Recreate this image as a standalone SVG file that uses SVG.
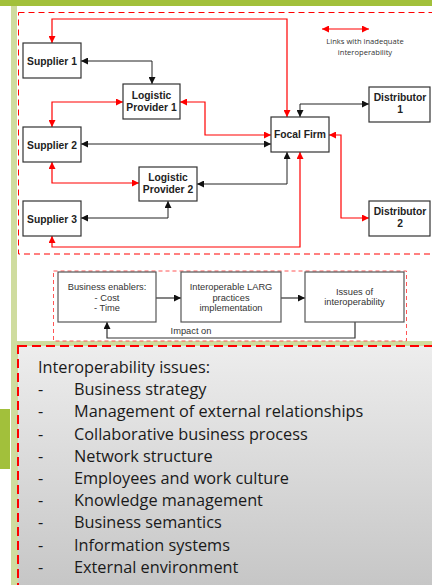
<svg xmlns="http://www.w3.org/2000/svg" width="432" height="585" viewBox="0 0 432 585">
  <defs>
    <linearGradient id="panelFill" x1="0" y1="0" x2="0" y2="1">
      <stop offset="0" stop-color="#ededed"/>
      <stop offset="1" stop-color="#c3c3c3"/>
    </linearGradient>
    <marker id="arRed" viewBox="0 0 8 8" refX="8" refY="4" markerWidth="7" markerHeight="7" orient="auto-start-reverse" markerUnits="userSpaceOnUse">
      <path d="M0,0 L8,4 L0,8 z" fill="#ff0000"/>
    </marker>
    <marker id="arBlack" viewBox="0 0 8 8" refX="8" refY="4" markerWidth="7" markerHeight="7" orient="auto-start-reverse" markerUnits="userSpaceOnUse">
      <path d="M0,0 L8,4 L0,8 z" fill="#111"/>
    </marker>
  </defs>
  <style>
    .node rect { fill: #fff; stroke: #333; stroke-width: 1.2; }
    .node text { font-family: "Liberation Sans", Arial, sans-serif; font-weight: bold; font-size: 10.3px; fill: #222; text-anchor: middle; }
    .flow rect { fill: #fff; stroke: #555; stroke-width: 1.2; }
    .flow text, .small { font-family: "Liberation Sans", Arial, sans-serif; font-size: 9.3px; fill: #333; text-anchor: middle; }
    .red { fill: none; stroke: #ff0000; stroke-width: 1.2; marker-start: url(#arRed); marker-end: url(#arRed); }
    .blk { fill: none; stroke: #222; stroke-width: 1; marker-start: url(#arBlack); marker-end: url(#arBlack); }
    .one { fill: none; stroke: #333; stroke-width: 1.2; marker-end: url(#arBlack); }
    .legend { font-family: "Open Sans", sans-serif; font-size: 7.6px; fill: #333; text-anchor: middle; }
    .list { font-family: "Open Sans", sans-serif; font-size: 16.3px; fill: #1a1a1a; }
  </style>

  <!-- slide background and frame -->
  <rect x="0" y="0" width="432" height="585" fill="#fff"/>
  <rect x="11" y="6" width="421" height="579" fill="#cfdc9f"/>
  <rect x="17" y="6" width="415" height="335" fill="#fff"/>
  <rect x="0" y="0" width="432" height="6" fill="#a2c03b"/>
  <rect x="0" y="409" width="10" height="60" fill="#a2c03b"/>

  <!-- network area frame -->
  <rect x="18.5" y="12.5" width="430" height="241.5" fill="none" stroke="#ff0000" stroke-width="1" stroke-dasharray="6 4"/>

  <!-- legend -->
  <g id="legend">
    <path d="M322,29 H369" class="red"/>
    <text class="legend" x="365" y="44">Links with inadequate</text>
    <text class="legend" x="365" y="54.5">interoperability</text>
  </g>

  <!-- connectors -->
  <g id="connectors">
    <path class="red" d="M52,43 V19 H287 V117"/>
    <path class="red" d="M52,127 V102 H123"/>
    <path class="red" d="M180,102 H205 V135 H271"/>
    <path class="red" d="M52,162 V183 H139"/>
    <path class="red" d="M52,236 V247 H300 V152"/>
    <path class="red" d="M329,135 H341 V218 H369"/>
    <path class="blk" d="M81,61 H152 V84"/>
    <path class="blk" d="M81,144 H271"/>
    <path class="blk" d="M197,184 H287 V152"/>
    <path class="blk" d="M81,218 H168 V201"/>
    <path class="blk" d="M300,117 V104 H369"/>
  </g>

  <!-- network nodes -->
  <g id="supplier1" class="node">
    <rect x="23" y="43" width="58" height="35"/>
    <text x="52" y="64.5">Supplier 1</text>
  </g>
  <g id="logistic1" class="node">
    <rect x="123" y="84" width="57" height="35"/>
    <text x="151.5" y="99">Logistic</text>
    <text x="151.5" y="111">Provider 1</text>
  </g>
  <g id="supplier2" class="node">
    <rect x="23" y="127" width="58" height="35"/>
    <text x="52" y="148.5">Supplier 2</text>
  </g>
  <g id="logistic2" class="node">
    <rect x="139" y="167" width="58" height="34"/>
    <text x="168" y="181">Logistic</text>
    <text x="168" y="193">Provider 2</text>
  </g>
  <g id="supplier3" class="node">
    <rect x="23" y="201" width="58" height="35"/>
    <text x="52" y="222.5">Supplier 3</text>
  </g>
  <g id="focal" class="node">
    <rect x="271" y="117" width="58" height="35"/>
    <text x="300" y="138">Focal Firm</text>
  </g>
  <g id="distributor1" class="node">
    <rect x="369" y="87" width="61" height="35"/>
    <text x="400" y="101">Distributor</text>
    <text x="400" y="113">1</text>
  </g>
  <g id="distributor2" class="node">
    <rect x="369" y="201" width="61" height="35"/>
    <text x="400" y="215">Distributor</text>
    <text x="400" y="227">2</text>
  </g>

  <!-- enablers loop -->
  <rect x="53.5" y="271" width="353" height="70" fill="none" stroke="#ff5555" stroke-width="1" stroke-dasharray="4 3"/>
  <g id="flowConnectors">
    <path class="one" d="M156,298 H181"/>
    <path class="one" d="M281,298 H305"/>
    <path class="one" d="M355,322 V338 H107 V322"/>
    <text class="small" x="191" y="334">Impact on</text>
  </g>
  <g id="enablers" class="flow">
    <rect x="58" y="272" width="98" height="50"/>
    <text x="107" y="290">Business enablers:</text>
    <text x="107" y="300.5">- Cost</text>
    <text x="107" y="311">- Time</text>
  </g>
  <g id="larg" class="flow">
    <rect x="181" y="272" width="100" height="50"/>
    <text x="231" y="290">Interoperable LARG</text>
    <text x="231" y="300.5">practices</text>
    <text x="231" y="311">implementation</text>
  </g>
  <g id="issues" class="flow">
    <rect x="305" y="272" width="99" height="50"/>
    <text x="354.5" y="294.5">Issues of</text>
    <text x="354.5" y="305">interoperability</text>
  </g>

  <!-- interoperability issues list -->
  <g id="issuesList">
    <rect x="18" y="346" width="430" height="260" fill="url(#panelFill)" stroke="#ff0000" stroke-width="2" stroke-dasharray="9 5"/>
    <text class="list" x="38" y="373">Interoperability issues:</text>
    <g class="list">
      <text x="38" y="395.2">-</text><text x="74" y="395.2">Business strategy</text>
      <text x="38" y="417.4">-</text><text x="74" y="417.4">Management of external relationships</text>
      <text x="38" y="439.6">-</text><text x="74" y="439.6">Collaborative business process</text>
      <text x="38" y="461.8">-</text><text x="74" y="461.8">Network structure</text>
      <text x="38" y="484">-</text><text x="74" y="484">Employees and work culture</text>
      <text x="38" y="506.2">-</text><text x="74" y="506.2">Knowledge management</text>
      <text x="38" y="528.4">-</text><text x="74" y="528.4">Business semantics</text>
      <text x="38" y="550.6">-</text><text x="74" y="550.6">Information systems</text>
      <text x="38" y="572.8">-</text><text x="74" y="572.8">External environment</text>
    </g>
  </g>
</svg>
